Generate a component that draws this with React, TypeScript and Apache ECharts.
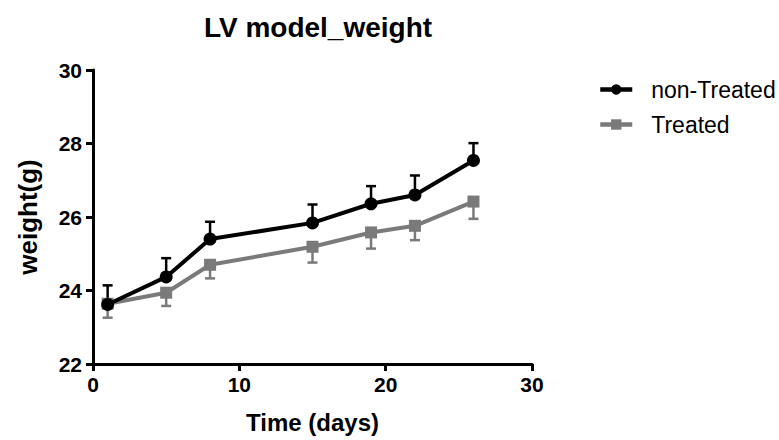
import React, { useEffect, useRef } from "react";
import * as echarts from "echarts";

const days = [1, 5, 8, 15, 19, 22, 26];
const nonTreated = [23.62, 24.37, 25.4, 25.84, 26.36, 26.6, 27.54];
const nonTreatedUpper = [24.14, 24.88, 25.87, 26.34, 26.84, 27.13, 28.01];
const treated = [23.64, 23.94, 24.7, 25.19, 25.58, 25.76, 26.42];
const treatedLower = [23.26, 23.58, 24.33, 24.76, 25.14, 25.37, 25.95];
const xTicks = [0, 10, 20, 30];
const yTicks = [22, 24, 26, 28, 30];

const FONT = "'Liberation Sans', Arial, sans-serif";

function errRender(color: string) {
  return (params: any, api: any) => {
    const x = api.value(0);
    const base = api.coord([x, api.value(1)]);
    const end = api.coord([x, api.value(2)]);
    const half = 5;
    return {
      type: "group",
      children: [
        {
          type: "line",
          shape: { x1: base[0], y1: base[1], x2: end[0], y2: end[1] },
          style: { stroke: color, lineWidth: 2.5 },
        },
        {
          type: "line",
          shape: { x1: end[0] - half, y1: end[1], x2: end[0] + half, y2: end[1] },
          style: { stroke: color, lineWidth: 2.5 },
        },
      ],
    };
  };
}

export default function App() {
  const ref = useRef<HTMLDivElement>(null);
  useEffect(() => {
    if (!ref.current) return;
    const chart = echarts.init(ref.current, null, { renderer: "svg" });
    const black = "#000000";
    const gray = "#7a7a7a";
    chart.setOption({
      animation: false,
      backgroundColor: "#ffffff",
      title: {
        text: "LV model_weight",
        left: 313,
        textAlign: "center",
        top: 8,
        textStyle: { fontFamily: FONT, fontWeight: "bold", fontSize: 28, color: "#000" },
      },
      legend: {
        data: ["non-Treated", "Treated"],
        orient: "vertical",
        left: 593,
        top: 73,
        itemGap: 12,
        itemWidth: 32,
        itemHeight: 13,
        lineStyle: { width: 4.5 },
        textStyle: { fontFamily: FONT, fontSize: 23, color: "#000", padding: [0, 0, 0, 14] },
      },
      grid: { left: 93, right: 247, top: 70, bottom: 76, containLabel: false },
      xAxis: {
        type: "value",
        min: 0,
        max: 30,
        interval: 10,
        name: "Time (days)",
        nameLocation: "middle",
        nameGap: 46,
        nameTextStyle: { fontFamily: FONT, fontWeight: "bold", fontSize: 24, color: "#000" },
        axisLine: { show: true, lineStyle: { color: "#000", width: 3 } },
        axisTick: { show: true, length: 7, lineStyle: { color: "#000", width: 3 } },
        axisLabel: {
          fontFamily: FONT,
          fontWeight: "bold",
          fontSize: 21,
          color: "#000",
          margin: 10,
          formatter: (v: number) => (xTicks.includes(v) ? String(v) : ""),
        },
        splitLine: { show: false },
      },
      yAxis: {
        type: "value",
        min: 22,
        max: 30,
        interval: 2,
        name: "weight(g)",
        nameLocation: "middle",
        nameGap: 52,
        nameRotate: 90,
        nameTextStyle: { fontFamily: FONT, fontWeight: "bold", fontSize: 26, color: "#000" },
        axisLine: { show: true, lineStyle: { color: "#000", width: 3 } },
        axisTick: { show: true, length: 7, lineStyle: { color: "#000", width: 3 } },
        axisLabel: {
          fontFamily: FONT,
          fontWeight: "bold",
          fontSize: 21,
          color: "#000",
          margin: 11,
          formatter: (v: number) => (yTicks.includes(v) ? String(v) : ""),
        },
        splitLine: { show: false },
      },
      series: [
        {
          name: "non-Treated-err",
          type: "custom",
          renderItem: errRender(black),
          data: days.map((d, i) => [d, nonTreated[i], nonTreatedUpper[i]]),
          z: 1,
          silent: true,
        },
        {
          name: "Treated-err",
          type: "custom",
          renderItem: errRender(gray),
          data: days.map((d, i) => [d, treated[i], treatedLower[i]]),
          z: 1,
          silent: true,
        },
        {
          name: "Treated",
          type: "line",
          data: days.map((d, i) => [d, treated[i]]),
          symbol: "rect",
          symbolSize: 12,
          itemStyle: { color: gray },
          lineStyle: { color: gray, width: 4 },
          z: 2,
        },
        {
          name: "non-Treated",
          type: "line",
          data: days.map((d, i) => [d, nonTreated[i]]),
          symbol: "circle",
          symbolSize: 13,
          itemStyle: { color: black },
          lineStyle: { color: black, width: 4 },
          z: 3,
        },
      ],
    });
    return () => chart.dispose();
  }, []);
  return <div ref={ref} style={{ width: 779, height: 440, position: "absolute", left: 0, top: 0 }} />;
}
